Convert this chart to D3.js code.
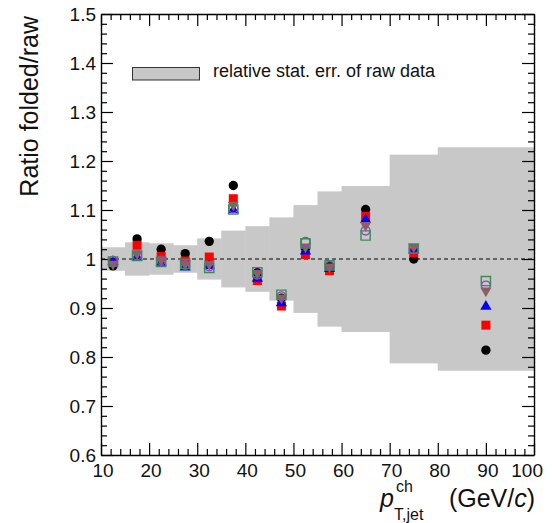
<!DOCTYPE html>
<html>
<head>
<meta charset="utf-8">
<script src="https://cdn.jsdelivr.net/npm/d3@7"></script>
<style>
  html, body { margin: 0; padding: 0; background: #fff; }
  svg { display: block; font-family: "Liberation Sans", Arial, Helvetica, sans-serif; }
</style>
</head>
<body>
<svg id="chart" width="552" height="523"></svg>
<script>
// Jet pT bins (GeV/c) and their centres
const binEdges = [10, 15, 20, 25, 30, 35, 40, 45, 50, 55, 60, 70, 80, 100];
const binCenters = [12.5, 17.5, 22.5, 27.5, 32.5, 37.5, 42.5, 47.5, 52.5, 57.5, 65, 75, 90];

// Relative statistical uncertainty of the raw spectrum (half-width of the band around 1)
const rawStatErr = [0.024, 0.034, 0.032, 0.028, 0.042, 0.058, 0.067, 0.085, 0.11, 0.138, 0.149, 0.213, 0.228];

// Folded / raw ratios, one array per unfolding variant
const ratioBlackCircle = [0.986, 1.041, 1.020, 1.011, 1.036, 1.150, 0.972, 0.920, 1.020, 0.985, 1.101, 1.000, 0.814];
const ratioRedSquare   = [0.993, 1.028, 1.005, 0.996, 1.004, 1.123, 0.956, 0.904, 1.009, 0.976, 1.087, 1.013, 0.865];
const ratioBlueTri     = [0.995, 1.004, 0.993, 0.983, 0.986, 1.100, 0.960, 0.910, 1.016, 0.980, 1.080, 1.018, 0.903];
const ratioBrownInvTri = [0.990, 1.011, 0.998, 0.990, 0.990, 1.110, 0.971, 0.921, 1.025, 0.984, 1.069, 1.025, 0.935];
const ratioOpenCircle  = [0.996, 1.007, 0.997, 0.988, 0.985, 1.103, 0.968, 0.924, 1.035, 0.986, 1.058, 1.020, 0.946];
const ratioOpenSquare  = [0.995, 1.006, 0.994, 0.990, 0.982, 1.101, 0.973, 0.927, 1.032, 0.987, 1.048, 1.021, 0.955];

const xTicks = [10, 20, 30, 40, 50, 60, 70, 80, 90, 100];
const yTicks = [0.6, 0.7, 0.8, 0.9, 1.0, 1.1, 1.2, 1.3, 1.4, 1.5];
const legendLabel = "relative stat. err. of raw data";

const svg = d3.select("#chart");
const frame = { left: 101, right: 534, top: 14, bottom: 455 };

const x = d3.scaleLinear().domain([10, 100]).range([frame.left, frame.right]);
const y = d3.scaleLinear().domain([0.6, 1.5]).range([frame.bottom, frame.top]);

const bandColor = "#c8c8c8";

// Statistical-error band, one step per bin
svg.append("g").selectAll("rect")
  .data(rawStatErr.map((e, i) => ({ lo: binEdges[i], hi: binEdges[i + 1], e })))
  .join("rect")
  .attr("x", d => x(d.lo))
  .attr("width", d => x(d.hi) - x(d.lo) + 0.5)
  .attr("y", d => y(1 + d.e))
  .attr("height", d => y(1 - d.e) - y(1 + d.e))
  .attr("fill", bandColor);

// Unity reference line
svg.append("line")
  .attr("x1", x(10)).attr("x2", x(100))
  .attr("y1", y(1)).attr("y2", y(1))
  .attr("stroke", "#000").attr("stroke-width", 1.2)
  .attr("stroke-dasharray", "4,3");

// Axes: frame with inward ticks on all four sides
const majorLen = 12, minorLen = 6;
const xMinor = d3.range(10, 100.001, 2);
const yMinor = d3.range(0.6, 1.5001, 0.02);

function tickLen(v, step) {
  const r = Math.abs(v / step - Math.round(v / step));
  return r < 1e-6 ? majorLen : minorLen;
}

const gB = svg.append("g").attr("transform", `translate(0,${frame.bottom})`)
  .call(d3.axisBottom(x).tickValues(xMinor).tickFormat("").tickSizeOuter(0));
gB.selectAll(".tick line").attr("y2", d => -tickLen(d, 10)).attr("stroke-width", 1.2);
const gT = svg.append("g").attr("transform", `translate(0,${frame.top})`)
  .call(d3.axisTop(x).tickValues(xMinor).tickFormat("").tickSizeOuter(0));
gT.selectAll(".tick line").attr("y2", d => tickLen(d, 10)).attr("stroke-width", 1.2);
const gL = svg.append("g").attr("transform", `translate(${frame.left},0)`)
  .call(d3.axisLeft(y).tickValues(yMinor).tickFormat("").tickSizeOuter(0));
gL.selectAll(".tick line").attr("x2", d => tickLen(d, 0.1)).attr("stroke-width", 1.2);
const gR = svg.append("g").attr("transform", `translate(${frame.right},0)`)
  .call(d3.axisRight(y).tickValues(yMinor).tickFormat("").tickSizeOuter(0));
gR.selectAll(".tick line").attr("x2", d => -tickLen(d, 0.1)).attr("stroke-width", 1.2);
[gB, gT, gL, gR].forEach(g => g.select(".domain").attr("stroke-width", 1.4));

// Tick labels
svg.append("g").selectAll("text").data(yTicks).join("text")
  .attr("x", frame.left - 5)
  .attr("y", d => y(d))
  .attr("dy", "0.36em")
  .attr("text-anchor", "end")
  .attr("font-size", 19)
  .attr("fill", "#111")
  .text(d => d3.format("")(+d.toFixed(1)));

svg.append("g").selectAll("text").data(xTicks).join("text")
  .attr("x", d => d === 100 ? x(d) + 9 : x(d) + 2)
  .attr("y", 477)
  .attr("text-anchor", d => d === 100 ? "end" : "middle")
  .attr("font-size", 19)
  .attr("fill", "#111")
  .text(d => d);

// Axis titles
svg.append("text")
  .attr("transform", `translate(38,${frame.top + 2}) rotate(-90)`)
  .attr("text-anchor", "end")
  .attr("font-size", 25)
  .attr("fill", "#111")
  .text("Ratio folded/raw");

const xt = svg.append("g").attr("fill", "#111");
xt.append("text").attr("x", 380).attr("y", 507).attr("font-size", 25).attr("font-style", "italic").text("p");
xt.append("text").attr("x", 396).attr("y", 492).attr("font-size", 16).text("ch");
xt.append("text").attr("x", 394).attr("y", 520).attr("font-size", 16).text("T,jet");
const unit = xt.append("text").attr("x", 535).attr("y", 507).attr("font-size", 25).attr("text-anchor", "end");
unit.append("tspan").text("(GeV/");
unit.append("tspan").attr("font-style", "italic").text("c");
unit.append("tspan").text(")");

// Legend
svg.append("rect")
  .attr("x", 132.5).attr("y", 67.5).attr("width", 67).attr("height", 12.5)
  .attr("fill", bandColor).attr("stroke", "#333").attr("stroke-width", 1);
svg.append("text")
  .attr("x", 213).attr("y", 77)
  .attr("font-size", 18)
  .attr("fill", "#111")
  .text(legendLabel);

// Markers
const series = [
  { values: ratioBlackCircle, symbol: d3.symbolCircle, size: 68, fill: "#000", stroke: "none" },
  { values: ratioRedSquare, symbol: d3.symbolSquare, size: 81, fill: "#ff0000", stroke: "none" },
  { values: ratioBlueTri, symbol: d3.symbolTriangle, size: 55, fill: "#0000ff", stroke: "none" },
  { values: ratioBrownInvTri, symbol: d3.symbolTriangle, size: 55, fill: "#8a6456", stroke: "none", flip: true },
  { values: ratioOpenCircle, symbol: d3.symbolCircle, size: 60, fill: "none", stroke: "#9a40c0" },
  { values: ratioOpenSquare, symbol: d3.symbolSquare, size: 85, fill: "none", stroke: "#3a8a5a" }
];

const markerG = svg.append("g");
series.forEach(s => {
  const path = d3.symbol().type(s.symbol).size(s.size)();
  markerG.append("g").selectAll("path")
    .data(s.values.map((v, i) => ({ xv: binCenters[i], yv: v })))
    .join("path")
    .attr("d", path)
    .attr("transform", d => `translate(${x(d.xv)},${y(d.yv)})` + (s.flip ? " rotate(180)" : ""))
    .attr("fill", s.fill)
    .attr("stroke", s.stroke)
    .attr("stroke-width", s.stroke === "none" ? 0 : 1.4);
});
</script>
</body>
</html>
